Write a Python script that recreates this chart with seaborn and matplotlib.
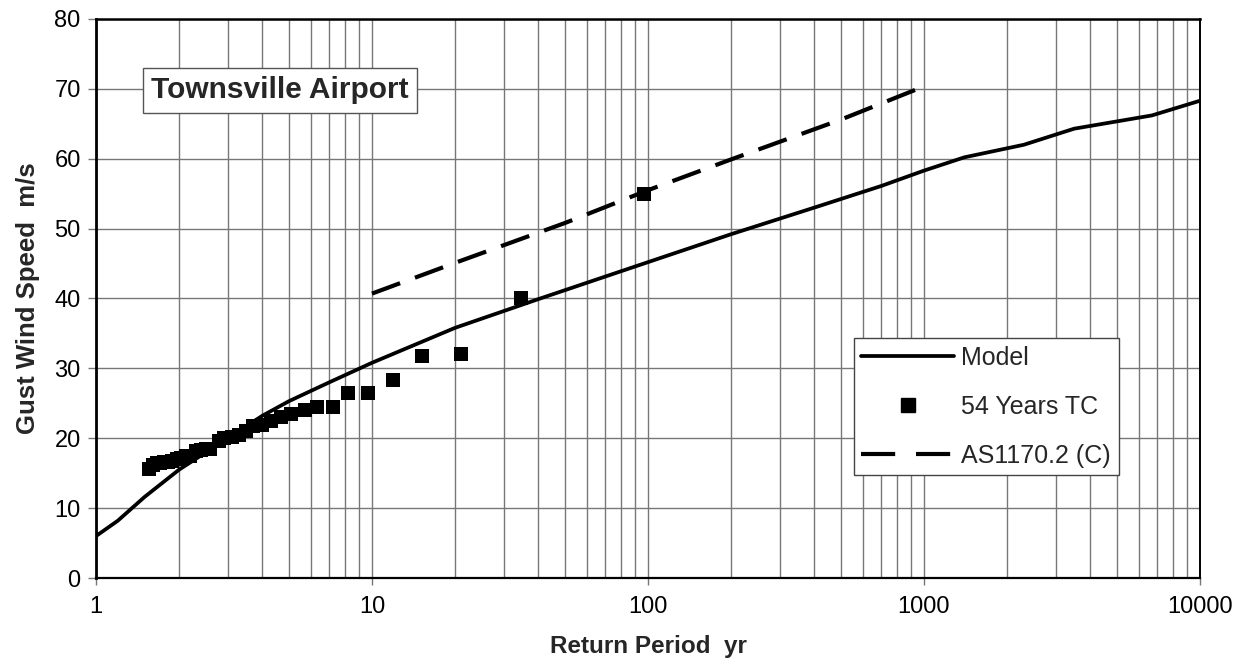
import numpy as np
import pandas as pd
import matplotlib
matplotlib.use("Agg")
import matplotlib.pyplot as plt
from matplotlib.lines import Line2D
from matplotlib.ticker import LogLocator, FixedLocator, NullFormatter
import seaborn as sns

# Model return-period curve
model_period = [1, 1.2, 1.5, 2, 3, 4, 5, 7, 10, 20, 40, 100, 200, 400,
                700, 1000, 1400, 2300, 3500, 6700, 10000]
model_speed = [6.0, 8.2, 11.6, 15.5, 20.0, 23.2, 25.3, 28.0, 30.8, 35.8,
               39.9, 45.2, 49.2, 53.0, 56.1, 58.3, 60.2, 62.0, 64.3, 66.2, 68.3]

# Observed tropical cyclone gusts (54 years)
tc_period = [96.6, 34.7, 21.1, 15.2, 11.9, 9.7, 8.2, 7.2, 6.3, 5.7, 5.1, 4.7,
             4.3, 4.0, 3.7, 3.5, 3.3, 3.1, 2.9, 2.8, 2.6, 2.5, 2.4, 2.3, 2.2,
             2.12, 2.04, 1.96, 1.89, 1.83, 1.77, 1.71, 1.66, 1.61, 1.56]
tc_speed = [55.0, 40.0, 32.0, 31.8, 28.4, 26.5, 26.5, 24.5, 24.5, 24.0, 23.5,
            23.0, 22.4, 21.9, 21.7, 21.0, 20.5, 20.2, 20.0, 19.6, 18.5, 18.4,
            18.3, 18.2, 17.5, 17.4, 17.2, 17.0, 16.8, 16.6, 16.6, 16.5, 16.4,
            16.2, 15.6]

# AS1170.2 region C design values
code_period = [10, 20, 50, 100, 200, 500, 950]
code_speed = [40.7, 45.1, 50.8, 55.5, 59.9, 65.6, 70.0]

sns.set_theme(style="white")
plt.rcParams["font.family"] = ["Liberation Sans", "DejaVu Sans"]

fig = plt.figure(figsize=(12.43, 6.59), dpi=100)
ax = fig.add_axes([0.0772, 0.1229, 0.8882, 0.8483])

model_df = pd.DataFrame({"period": model_period, "speed": model_speed})
tc_df = pd.DataFrame({"period": tc_period, "speed": tc_speed})
code_df = pd.DataFrame({"period": code_period, "speed": code_speed})

dash_style = (0, (7.2, 3.8))

sns.lineplot(data=model_df, x="period", y="speed", ax=ax, color="black",
             lw=2.7, estimator=None, sort=False, zorder=4)
sns.scatterplot(data=tc_df, x="period", y="speed", ax=ax, color="black",
                marker="s", s=100, linewidth=0, zorder=5)
sns.lineplot(data=code_df, x="period", y="speed", ax=ax, color="black",
             lw=3.0, estimator=None, sort=False, linestyle=dash_style,
             zorder=4)

ax.set_xscale("log")
ax.set_xlim(1, 10000)
ax.set_ylim(0, 80)
ax.set_yticks(np.arange(0, 81, 10))
ax.xaxis.set_major_locator(FixedLocator([1, 10, 100, 1000, 10000]))
ax.set_xticklabels(["1", "10", "100", "1000", "10000"])
ax.xaxis.set_minor_locator(LogLocator(base=10, subs=np.arange(2, 10)))
ax.xaxis.set_minor_formatter(NullFormatter())

grid_color = "#777777"
ax.grid(True, which="major", axis="both", color=grid_color, lw=1.0)
ax.grid(True, which="minor", axis="x", color=grid_color, lw=1.0)
ax.set_axisbelow(True)

ax.tick_params(axis="y", which="major", left=True, length=6, width=1,
               color=grid_color, labelsize=17, pad=5, labelcolor="black")
ax.tick_params(axis="x", which="major", bottom=True, length=5, width=1,
               color=grid_color, labelsize=17, pad=8, labelcolor="black")
ax.tick_params(axis="x", which="minor", bottom=False)

for side, lw in [("left", 2.0), ("top", 1.8), ("bottom", 1.6), ("right", 1.4)]:
    ax.spines[side].set_visible(True)
    ax.spines[side].set_color("black")
    ax.spines[side].set_linewidth(lw)

ax.set_xlabel("Return Period  yr", fontsize=17.5, fontweight="bold",
              labelpad=12)
ax.set_ylabel("Gust Wind Speed  m/s", fontsize=18.5, fontweight="bold",
              labelpad=10)

ax.text(4.64, 69.8, "Townsville Airport", fontsize=21.5, fontweight="bold",
        ha="center", va="center", zorder=6,
        bbox=dict(boxstyle="square,pad=0.28", facecolor="white",
                  edgecolor="#555555", linewidth=1.0))

handles = [
    Line2D([], [], color="black", lw=2.7),
    Line2D([], [], color="black", marker="s", markersize=10, linestyle="none"),
    Line2D([], [], color="black", lw=3.0, linestyle=(0, (8.2, 5.0))),
]
labels = ["Model", "54 Years TC", "AS1170.2 (C)"]
leg = ax.legend(handles, labels, loc="upper left",
                bbox_to_anchor=(0.6866, 0.4293), borderaxespad=0,
                fontsize=18, handlelength=3.7, handletextpad=0.3,
                labelspacing=1.0, borderpad=0.3, frameon=True,
                fancybox=False, framealpha=1)
leg.get_frame().set_edgecolor("#444444")
leg.get_frame().set_linewidth(1.0)
leg.set_zorder(7)

fig.savefig("out.png", dpi=100, facecolor="white")
